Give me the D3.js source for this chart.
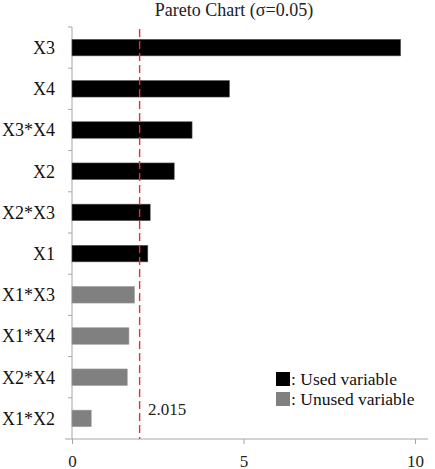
<!DOCTYPE html>
<html>
<head>
<meta charset="utf-8">
<script src="https://cdn.jsdelivr.net/npm/d3@7"></script>
<style>
  body { margin: 0; background: #fff; }
  svg { display: block; }
</style>
</head>
<body>
<svg id="chart" width="435" height="469"></svg>
<script>
const categories = ["X3", "X4", "X3*X4", "X2", "X2*X3", "X1", "X1*X3", "X1*X4", "X2*X4", "X1*X2"];
const values = [9.58, 4.59, 3.50, 2.98, 2.28, 2.21, 1.82, 1.66, 1.61, 0.56];
const used = [true, true, true, true, true, true, false, false, false, false];
const threshold = 2.015;
const xTicks = [0, 5, 10];
const title = "Pareto Chart (σ=0.05)";
const legendLabels = [": Used variable", ": Unused variable"];

(function () {
const FONT = "'Liberation Serif', 'Times New Roman', serif";
const svg = d3.select("#chart").style("font-family", FONT);
const mLeft = 72, mRight = 415, mTop = 27, mBottom = 439;

const x = d3.scaleLinear().domain([0, 10]).range([mLeft, mRight]);
const y = d3.scaleBand().domain(categories).range([mTop, mBottom]).paddingInner(0.6).paddingOuter(0.3);

const axisColor = "#a6a6a6";

// title
svg.append("text").attr("x", 234).attr("y", 16).attr("text-anchor", "middle")
  .style("font-family", FONT).attr("font-size", 18).attr("fill", "#222").text(title);

// x axis
const xAxis = svg.append("g").attr("transform", `translate(0,${mBottom})`)
  .call(d3.axisBottom(x).tickValues(xTicks).tickSize(5).tickPadding(11));
xAxis.select(".domain").remove();
xAxis.append("line").attr("x1", 65).attr("x2", 428).attr("y1", 0).attr("y2", 0)
  .attr("stroke", axisColor);
xAxis.selectAll(".tick line").attr("stroke", axisColor);
xAxis.selectAll(".tick text").attr("font-size", 17).attr("fill", "#222")
  .style("font-family", FONT);

// y axis line
svg.append("line").attr("x1", mLeft).attr("x2", mLeft).attr("y1", mTop).attr("y2", mBottom)
  .attr("stroke", axisColor);
// boundary ticks
const bounds = d3.range(categories.length).map(i => y(categories[i]) - y.step() * y.paddingInner() / 2);
svg.append("g").selectAll("line").data(bounds).join("line")
  .attr("x1", mLeft - 4).attr("x2", mLeft).attr("y1", d => d).attr("y2", d => d)
  .attr("stroke", axisColor);

// category labels
svg.append("g").selectAll("text").data(categories).join("text")
  .attr("x", 55).attr("y", d => y(d) + y.bandwidth() / 2).attr("dy", "0.36em")
  .style("font-family", FONT)
  .attr("text-anchor", "end").attr("font-size", 18).attr("fill", "#111").text(d => d);

// bars
svg.append("g").selectAll("rect").data(categories).join("rect")
  .attr("x", x(0)).attr("y", d => y(d))
  .attr("width", (d, i) => x(values[i]) - x(0)).attr("height", y.bandwidth())
  .attr("fill", (d, i) => used[i] ? "#000" : "#808080")
  .attr("stroke", (d, i) => used[i] ? "#555" : "#999").attr("stroke-width", 0.6);

// threshold line
svg.append("line").attr("x1", x(threshold) - 1.5).attr("x2", x(threshold) - 1.5)
  .attr("y1", 29).attr("y2", mBottom)
  .attr("stroke", "#e8302c").attr("stroke-width", 1.4).attr("stroke-dasharray", "8,4");
svg.append("text").attr("x", 148).attr("y", 415).attr("font-size", 17).attr("fill", "#222")
  .style("font-family", FONT).text(threshold.toFixed(3));

// legend
const lg = svg.append("g");
legendLabels.forEach((t, i) => {
  lg.append("rect").attr("x", 276).attr("y", 372 + i * 20).attr("width", 14).attr("height", 14)
    .attr("fill", i === 0 ? "#000" : "#808080");
  lg.append("text").attr("x", 291).attr("y", 385 + i * 20).attr("font-size", 17.5)
    .style("font-family", FONT).attr("fill", "#111").text(t);
});
})();
</script>
</body>
</html>
